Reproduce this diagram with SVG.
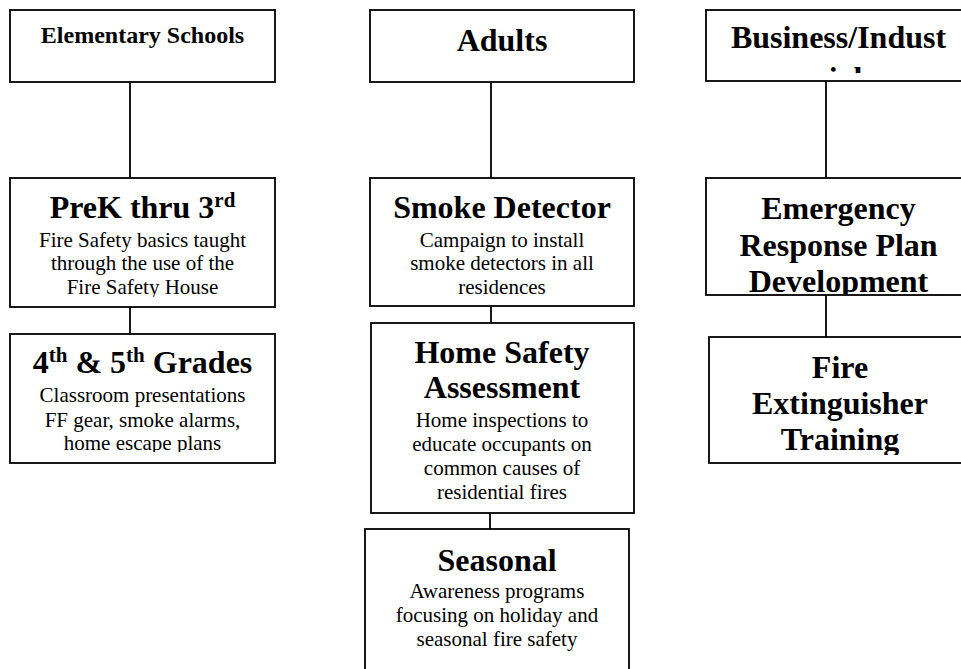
<svg xmlns="http://www.w3.org/2000/svg" width="961" height="669" viewBox="0 0 961 669">
<style>
.box{fill:#fff;stroke:#000;stroke-width:1.8}
.conn line{stroke:#000;stroke-width:1.8}
text{font-family:"Liberation Serif","Times New Roman",serif;fill:#000;text-anchor:middle}
.t{font-size:32px;font-weight:bold}
.t24{font-size:24px;font-weight:bold}
.s{font-size:21px}
</style>
<defs>
<clipPath id="cBiz"><rect x="706" y="10" width="260" height="63"/></clipPath>
<clipPath id="cPre"><rect x="10" y="178" width="265" height="119"/></clipPath>
<clipPath id="c45"><rect x="10" y="334" width="265" height="118"/></clipPath>
<clipPath id="cEm"><rect x="706" y="178" width="260" height="116"/></clipPath>
<clipPath id="cFe"><rect x="709" y="337" width="260" height="118"/></clipPath>
</defs>
<rect width="961" height="669" fill="#fff"/>
<g id="connectors" class="conn">
<line x1="130" y1="82" x2="130" y2="178"/>
<line x1="130" y1="307" x2="130" y2="334"/>
<line x1="491" y1="82" x2="491" y2="178"/>
<line x1="491" y1="306" x2="491" y2="323"/>
<line x1="490" y1="513" x2="490" y2="529"/>
<line x1="826" y1="81" x2="826" y2="178"/>
<line x1="826" y1="295" x2="826" y2="337"/>
</g>
<g id="elementary">
<rect class="box" x="10" y="10" width="265" height="72"/>
<text class="t24" x="142.5" y="43">Elementary Schools</text>
</g>
<g id="adults">
<rect class="box" x="370" y="10" width="264" height="72"/>
<text class="t" x="502" y="51">Adults</text>
</g>
<g id="business">
<rect class="box" x="706" y="10" width="265" height="71"/>
<g clip-path="url(#cBiz)">
<text class="t" x="838.5" y="48">Business/Indust</text>
<text class="t" x="838.5" y="89">rial</text>
</g>
</g>
<g id="prek">
<rect class="box" x="10" y="178" width="265" height="129"/>
<g clip-path="url(#cPre)">
<text class="t" x="142.5" y="218">PreK thru 3<tspan font-size="21" dy="-11">rd</tspan></text>
<text class="s" x="142.5" y="247">Fire Safety basics taught</text>
<text class="s" x="142.5" y="270">through the use of the</text>
<text class="s" x="142.5" y="294">Fire Safety House</text>
</g>
</g>
<g id="grades45">
<rect class="box" x="10" y="334" width="265" height="129"/>
<g clip-path="url(#c45)">
<text class="t" x="142.5" y="373">4<tspan font-size="21" dy="-11">th</tspan><tspan dy="11"> &amp; 5</tspan><tspan font-size="21" dy="-11">th</tspan><tspan dy="11"> Grades</tspan></text>
<text class="s" x="142.5" y="402">Classroom presentations</text>
<text class="s" x="142.5" y="427">FF gear, smoke alarms,</text>
<text class="s" x="142.5" y="450">home escape plans</text>
</g>
</g>
<g id="smoke">
<rect class="box" x="370" y="178" width="264" height="128"/>
<text class="t" x="502" y="218">Smoke Detector</text>
<text class="s" x="502" y="247">Campaign to install</text>
<text class="s" x="502" y="270">smoke detectors in all</text>
<text class="s" x="502" y="294">residences</text>
</g>
<g id="home">
<rect class="box" x="371" y="323" width="263" height="190"/>
<text class="t" x="502" y="363">Home Safety</text>
<text class="t" x="502" y="398">Assessment</text>
<text class="s" x="502" y="427">Home inspections to</text>
<text class="s" x="502" y="451">educate occupants on</text>
<text class="s" x="502" y="475">common causes of</text>
<text class="s" x="502" y="499">residential fires</text>
</g>
<g id="seasonal">
<rect class="box" x="365" y="529" width="264" height="150"/>
<text class="t" x="497" y="571">Seasonal</text>
<text class="s" x="497" y="598">Awareness programs</text>
<text class="s" x="497" y="622">focusing on holiday and</text>
<text class="s" x="497" y="646">seasonal fire safety</text>
</g>
<g id="emergency">
<rect class="box" x="706" y="178" width="265" height="117"/>
<g clip-path="url(#cEm)">
<text class="t" x="838.5" y="219">Emergency</text>
<text class="t" x="838.5" y="256">Response Plan</text>
<text class="t" x="838.5" y="292">Development</text>
</g>
</g>
<g id="extinguisher">
<rect class="box" x="709" y="337" width="262" height="126"/>
<g clip-path="url(#cFe)">
<text class="t" x="840" y="378">Fire</text>
<text class="t" x="840" y="414">Extinguisher</text>
<text class="t" x="840" y="450">Training</text>
</g>
</g>
</svg>
